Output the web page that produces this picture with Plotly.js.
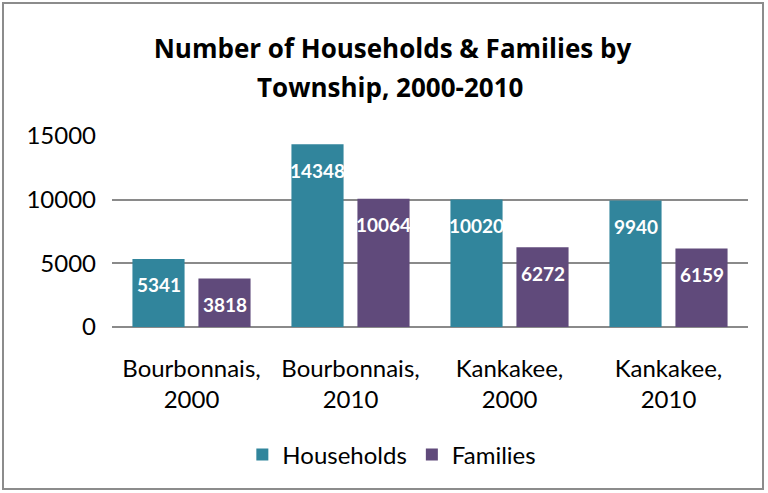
<!DOCTYPE html>
<html>
<head>
<meta charset="utf-8">
<script src="https://cdn.plot.ly/plotly-3.0.1.min.js"></script>
<style>
  html, body { margin: 0; padding: 0; background: #fff; }
  #wrap { position: relative; width: 768px; height: 493px; }
  #chart { width: 768px; height: 493px; }
  #frame { position: absolute; left: 2px; top: 2px; width: 762px; height: 488px;
           border: 2px solid #8c8c8c; box-sizing: border-box; pointer-events: none; }
</style>
</head>
<body>
<div id="wrap">
  <div id="chart"></div>
  <div id="frame"></div>
</div>
<script>
const categories = ["Bourbonnais,<br>2000", "Bourbonnais,<br>2010", "Kankakee,<br>2000", "Kankakee,<br>2010"];
const households = [5341, 14348, 10020, 9940];
const families = [3818, 10064, 6272, 6159];
const seriesNames = ["Households", "Families"];
const colors = ["#31859c", "#604a7b"];
const yTicks = [0, 5000, 10000, 15000];
const titleLines = ["Number of Households & Families by", "Township, 2000-2010"];

const FONT = "Lato, 'Open Sans', sans-serif";
const TFONT = "'Open Sans', Lato, sans-serif";

const traces = [
  { type: "bar", name: seriesNames[0], x: categories, y: households, marker: { color: colors[0] }, hoverinfo: "y" },
  { type: "bar", name: seriesNames[1], x: categories, y: families, marker: { color: colors[1] }, hoverinfo: "y" }
];

const annotations = [];
[households, families].forEach((vals, s) => {
  vals.forEach((v, i) => {
    annotations.push({
      x: categories[i], y: v, xref: "x", yref: "y",
      text: String(v), showarrow: false,
      xshift: s === 0 ? -33 : 33, yshift: -26,
      yanchor: "middle", xanchor: "center",
      font: { family: FONT, size: 19, color: "#ffffff", weight: "bold" }
    });
  });
});
// second title line
annotations.push({
  xref: "paper", yref: "paper", x: 0.437, y: (327 - 87) / 191, xanchor: "center", yanchor: "middle",
  text: "<b>" + titleLines[1] + "</b>", showarrow: false,
  font: { family: TFONT, size: 26, color: "#000000" }
});

const layout = {
  width: 768, height: 493,
  margin: { l: 112, r: 20, t: 136, b: 166 },
  paper_bgcolor: "#ffffff", plot_bgcolor: "#ffffff",
  title: {
    text: "<b>" + titleLines[0] + "</b>",
    font: { family: TFONT, size: 26, color: "#000000" },
    x: 0.511, xanchor: "center", y: 1 - 49 / 493, yanchor: "middle"
  },
  barmode: "group", bargap: 0.17, bargroupgap: 0.21,
  xaxis: {
    type: "category",
    tickfont: { family: FONT, size: 24, color: "#000000" },
    showline: false, showgrid: false, ticks: "",
    ticklabelstandoff: 25
  },
  yaxis: {
    range: [0, 15000], tickvals: yTicks, ticktext: yTicks.map(String),
    tickfont: { family: FONT, size: 24, color: "#000000" },
    showgrid: true, gridcolor: "#8a8a8a", gridwidth: 2,
    zeroline: true, zerolinecolor: "#8a8a8a", zerolinewidth: 2,
    showline: false, ticks: "", ticklabelstandoff: 15
  },
  showlegend: true,
  legend: {
    orientation: "h", x: 0.44, xanchor: "center", y: -0.67, yanchor: "middle",
    font: { family: FONT, size: 24, color: "#000000" },
    itemwidth: 30, traceorder: "normal"
  },
  annotations: annotations
};

Plotly.newPlot("chart", traces, layout, { displayModeBar: false, staticPlot: true });
</script>
</body>
</html>
